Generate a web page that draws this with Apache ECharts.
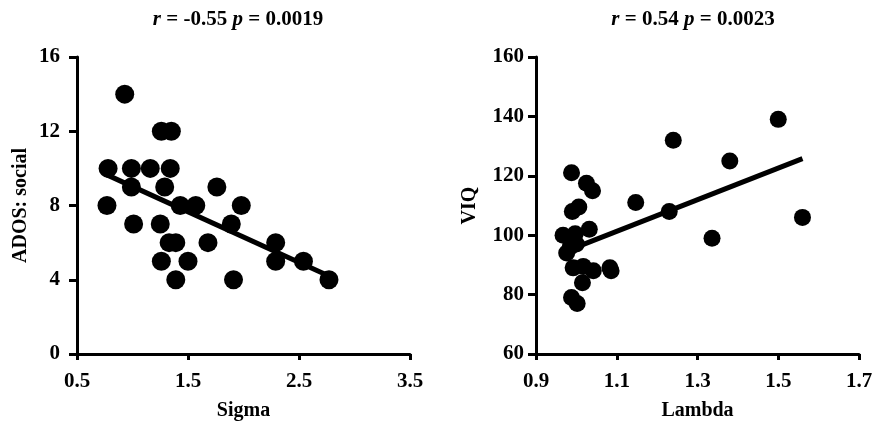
<!DOCTYPE html>
<html>
<head>
<meta charset="utf-8">
<script src="https://cdn.jsdelivr.net/npm/echarts@6/dist/echarts.min.js"></script>
<style>
html,body{margin:0;padding:0;background:#fff;}
#chart{width:874px;height:423px;}
</style>
</head>
<body>
<div id="chart"></div>
<script>
// Left panel: Sigma vs ADOS social
const sigma = [0.93, 1.26, 1.35, 0.78, 0.99, 1.16, 1.34, 0.99, 1.29, 1.76, 0.77, 1.43, 1.57, 1.98, 1.01, 1.25, 1.89, 1.33, 1.39, 1.68, 2.29, 1.26, 1.50, 2.29, 2.54, 1.39, 1.91, 2.77];
const ados  = [14, 12, 12, 10, 10, 10, 10, 9, 9, 9, 8, 8, 8, 8, 7, 7, 7, 6, 6, 6, 6, 5, 5, 5, 5, 4, 4, 4];
const sigmaFitX = [0.77, 2.77];
const sigmaFitY = [9.65, 4.2];
const sigmaTicks = [0.5, 1.5, 2.5, 3.5];
const adosTicks = [0, 4, 8, 12, 16];

// Right panel: Lambda vs VIQ
const lambda = [1.50, 1.24, 1.38, 1.56, 1.336, 1.147, 1.23, 0.988, 1.025, 1.04, 0.99, 1.006, 1.032, 0.967, 0.997, 1.0, 0.976, 0.985, 0.992, 1.017, 1.042, 1.083, 1.086, 1.015, 0.988, 1.002];
const viq    = [139, 132, 125, 106, 99, 111, 108, 121, 117.5, 115, 108, 109.5, 102, 100, 100.5, 97, 94, 96, 89, 89.5, 88, 89, 88, 84, 79, 77];
const lambdaFitX = [0.97, 1.56];
const lambdaFitY = [94.4, 125.8];
const lambdaTicks = [0.9, 1.1, 1.3, 1.5, 1.7];
const viqTicks = [60, 80, 100, 120, 140, 160];

const titleLeft = ['r', ' = -0.55 ', 'p', ' = 0.0019'];
const titleRight = ['r', ' = 0.54 ', 'p', ' = 0.0023'];

const FONT = "'Liberation Serif', 'Times New Roman', serif";
const black = '#000';

function pairs(xs, ys){ return xs.map((x,i)=>[x, ys[i]]); }
function richTitle(parts){ return '{i|'+parts[0]+'}'+parts[1]+'{i|'+parts[2]+'}'+parts[3]; }

const baseText = {fontFamily: FONT, fontWeight: 'bold', color: black};

function xAx(idx, min, max, ticks, name){
  return {
    type:'value', gridIndex: idx, min, max,
    name, nameLocation:'middle', nameGap: 47,
    nameTextStyle: Object.assign({fontSize:20}, baseText),
    axisLine:{show:true, lineStyle:{color:black, width:3}},
    axisTick:{show:true, length:6, lineStyle:{color:black, width:3}, customValues: ticks},
    axisLabel:Object.assign({fontSize:21, margin:17, customValues: ticks, formatter: v => Number(v).toFixed(1)}, baseText),
    splitLine:{show:false}
  };
}
function yAx(idx, min, max, interval, name, gap, margin){
  return {
    type:'value', gridIndex: idx, min, max, interval,
    name, nameLocation:'middle', nameGap: gap,
    nameTextStyle: Object.assign({fontSize:20}, baseText),
    axisLine:{show:true, lineStyle:{color:black, width:3}},
    axisTick:{show:true, length:8, lineStyle:{color:black, width:3}},
    axisLabel:Object.assign({fontSize:21, margin:margin}, baseText),
    splitLine:{show:false}
  };
}

const chart = echarts.init(document.getElementById('chart'), null, {renderer:'canvas'});
chart.setOption({
  animation:false,
  backgroundColor:'#fff',
  title:[
    {text: richTitle(titleLeft), left: 233, top: 4, textAlign:'center',
     textStyle: Object.assign({fontSize:21, rich:{i:Object.assign({fontSize:21, fontStyle:'italic'}, baseText)}}, baseText)},
    {text: richTitle(titleRight), left: 688, top: 4, textAlign:'center',
     textStyle: Object.assign({fontSize:21, rich:{i:Object.assign({fontSize:21, fontStyle:'italic'}, baseText)}}, baseText)}
  ],
  grid:[
    {left:77, right:464, top:57, bottom:69, outerBoundsMode:'none', containLabel:false},
    {left:536, right:15, top:57, bottom:69, outerBoundsMode:'none', containLabel:false}
  ],
  xAxis:[
    xAx(0, 0.5, 3.5, sigmaTicks, 'Sigma'),
    xAx(1, 0.9, 1.7, lambdaTicks, 'Lambda')
  ],
  yAxis:[
    yAx(0, adosTicks[0], adosTicks[adosTicks.length-1], 4, 'ADOS: social', 46, 17),
    yAx(1, viqTicks[0], viqTicks[viqTicks.length-1], 20, 'VIQ', 56, 12)
  ],
  series:[
    {type:'scatter', xAxisIndex:0, yAxisIndex:0, data: pairs(sigma, ados), symbolSize:19,
     itemStyle:{color:black, opacity:1}, z:3},
    {type:'line', xAxisIndex:0, yAxisIndex:0, data: pairs(sigmaFitX, sigmaFitY), showSymbol:false,
     lineStyle:{color:black, width:5}, z:4},
    {type:'scatter', xAxisIndex:1, yAxisIndex:1, data: pairs(lambda, viq), symbolSize:17,
     itemStyle:{color:black, opacity:1}, z:3},
    {type:'line', xAxisIndex:1, yAxisIndex:1, data: pairs(lambdaFitX, lambdaFitY), showSymbol:false,
     lineStyle:{color:black, width:5}, z:4}
  ]
});
</script>
</body>
</html>
